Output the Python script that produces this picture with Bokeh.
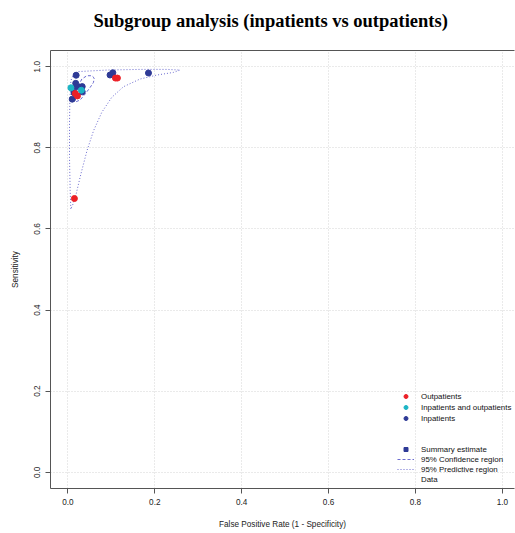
from bokeh.plotting import figure
from bokeh.models import FixedTicker, Legend, LegendItem, LinearAxis, Range1d
from bokeh.embed import file_html
from bokeh.resources import INLINE

# ---- data ----
out_fpr = [0.017, 0.022, 0.1095, 0.114, 0.015]
out_sens = [0.934, 0.928, 0.972, 0.972, 0.675]

inout_fpr = [0.007, 0.031]
inout_sens = [0.948, 0.942]

in_fpr = [0.019, 0.018, 0.019, 0.033, 0.033, 0.014, 0.010, 0.097, 0.1035, 0.1855]
in_sens = [0.979, 0.959, 0.951, 0.951, 0.938, 0.936, 0.920, 0.9796, 0.985, 0.9845]

summary_fpr = [0.030]
summary_sens = [0.950]

conf_fpr = [0.0168, 0.0221, 0.0322, 0.0437, 0.0552, 0.0605, 0.0589, 0.0513, 0.0398, 0.0283, 0.0191, 0.0168]
conf_sens = [0.9163, 0.9490, 0.9697, 0.9778, 0.9778, 0.9722, 0.9613, 0.9490, 0.9327, 0.9180, 0.9138, 0.9163]

pred_fpr = [0.0068, 0.0053, 0.0037, 0.0037, 0.0046, 0.0069, 0.013, 0.024, 0.090, 0.166, 0.228, 0.258,
            0.243, 0.205, 0.166, 0.128, 0.101, 0.078, 0.059, 0.044, 0.030, 0.019, 0.0106, 0.0068]
pred_sens = [0.6495, 0.6946, 0.7767, 0.859, 0.916, 0.9655, 0.982, 0.988, 0.9918, 0.9934, 0.9934, 0.9918,
             0.986, 0.9795, 0.9696, 0.9507, 0.9245, 0.8875, 0.842, 0.793, 0.7357, 0.686, 0.6576, 0.6495]

ticks = [0.0, 0.2, 0.4, 0.6, 0.8, 1.0]
tick_labels = ["0.0", "0.2", "0.4", "0.6", "0.8", "1.0"]

title_text = "Subgroup analysis (inpatients vs outpatients)"
x_title = "False Positive Rate (1 - Specificity)"
y_title = "Sensitivity"

RED = "#EC2027"
CYAN = "#1CB5C5"
BLUE = "#2E3A96"
CURVE = "#6B6BD0"
BOX = "#555555"
FONT = "Liberation Sans"
FS = "8.2px"

p = figure(width=515, height=533,
           x_range=Range1d(-0.04, 1.028), y_range=Range1d(-0.04, 1.04),
           output_backend="svg", toolbar_location=None,
           min_border_left=50, min_border_right=1, min_border_top=50, min_border_bottom=45,
           outline_line_color=None, background_fill_color="white", border_fill_color="white")

# second (blank) line lifts the title toward the top of the page
p.title.text = title_text + "\n "
p.title.align = "left"
p.title.offset = 43
p.title.standoff = 0
p.title.text_font = "Liberation Serif"
p.title.text_font_style = "bold"
p.title.text_font_size = "18.5px"
p.title.text_color = "black"

for ax, lab in ((p.xaxis[0], x_title), (p.yaxis[0], y_title)):
    ax.ticker = FixedTicker(ticks=ticks)
    ax.major_label_overrides = {t: l for t, l in zip(ticks, tick_labels)}
    ax.minor_tick_line_color = None
    ax.major_tick_in = 0
    ax.major_tick_out = 5
    ax.major_tick_line_color = BOX
    ax.axis_line_color = BOX
    ax.major_label_text_font = FONT
    ax.major_label_text_font_size = FS
    ax.major_label_text_color = "#222222"
    ax.axis_label = lab
    ax.axis_label_text_font = FONT
    ax.axis_label_text_font_size = FS
    ax.axis_label_text_font_style = "normal"
    ax.axis_label_text_color = "#222222"

p.xaxis.major_label_standoff = 5
p.xaxis.axis_label_standoff = 12
p.yaxis.major_label_orientation = "vertical"
p.yaxis.major_label_standoff = 5
p.yaxis.axis_label_standoff = 12

top = LinearAxis(ticker=FixedTicker(ticks=[]), major_label_text_font_size="0px",
                 major_tick_line_color=None, minor_tick_line_color=None,
                 axis_line_color=BOX)
p.add_layout(top, "above")

for g in (p.xgrid[0], p.ygrid[0]):
    g.ticker = FixedTicker(ticks=ticks)
    g.grid_line_color = "#d4d4d4"
    g.grid_line_dash = "1 2"

# regions
pred_r = p.line(pred_fpr, pred_sens, line_color=CURVE, line_dash="1 2", line_width=1)
conf_r = p.line(conf_fpr, conf_sens, line_color=CURVE, line_dash="3 2", line_width=1)

sum_r = p.scatter(summary_fpr, summary_sens, marker="square", size=5, color=BLUE)
in_r = p.scatter(in_fpr, in_sens, size=6, color=BLUE)
io_r = p.scatter(inout_fpr, inout_sens, size=6, color=CYAN)
out_r = p.scatter(out_fpr, out_sens, size=6, color=RED)
data_r = p.scatter([], [], size=6, fill_color=None, line_color="#333333")

leg_common = dict(glyph_width=17, glyph_height=10, label_height=10, label_standoff=7,
                  padding=0, margin=0, border_line_color=None, background_fill_alpha=0,
                  label_text_font=FONT, label_text_font_size="7.9px", label_text_color="#111111")

leg1 = Legend(items=[LegendItem(label="Outpatients", renderers=[out_r]),
                     LegendItem(label="Inpatients and outpatients", renderers=[io_r]),
                     LegendItem(label="Inpatients", renderers=[in_r])],
              location=(347, 65), spacing=1, **leg_common)
leg2 = Legend(items=[LegendItem(label="Summary estimate", renderers=[sum_r]),
                     LegendItem(label="95% Confidence region", renderers=[conf_r]),
                     LegendItem(label="95% Predictive region", renderers=[pred_r]),
                     LegendItem(label="Data", renderers=[data_r])],
              location=(347, 4), spacing=0, **leg_common)
p.add_layout(leg1)
p.add_layout(leg2)

open("out.html", "w").write(file_html(p, INLINE))
